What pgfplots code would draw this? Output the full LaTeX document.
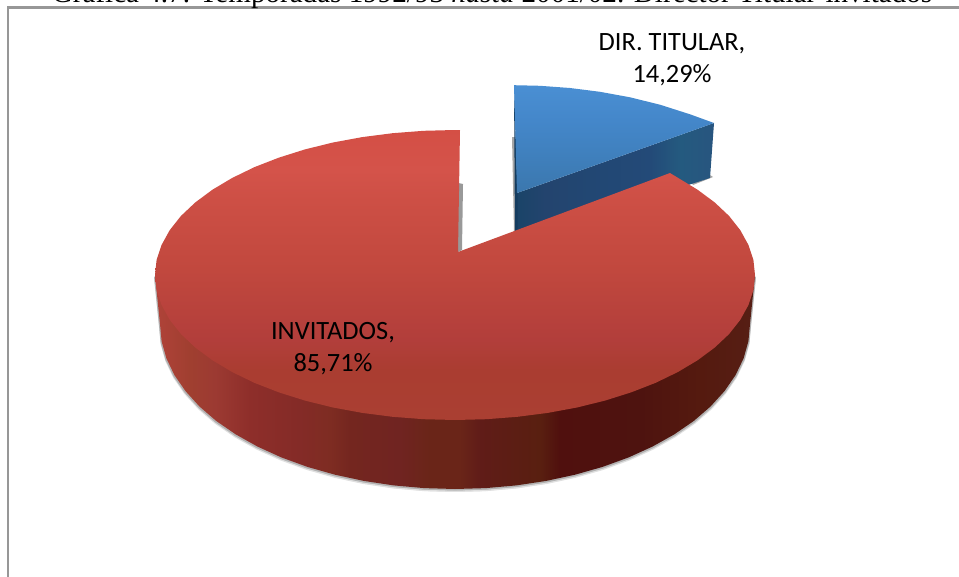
\documentclass[border=0pt]{standalone}
\usepackage{fontspec}
\setmainfont{Carlito}
\newfontfamily\titlefont{Liberation Serif}
\usepackage{pgfplots}
\pgfplotsset{compat=1.18}
\definecolor{frameC}{HTML}{979797}
\definecolor{ra}{HTML}{D44F45}\definecolor{rb}{HTML}{D4534A}\definecolor{rc}{HTML}{CD4F45}
\definecolor{rd}{HTML}{C1483E}\definecolor{re}{HTML}{B23E3B}\definecolor{rf}{HTML}{AA3D31}\definecolor{rg}{HTML}{AA3F32}
\pgfdeclareverticalshading{redtop}{100bp}{color(0bp)=(rg);color(25bp)=(rg);color(33.6bp)=(rf);color(38.8bp)=(re);color(50.9bp)=(rd);color(62.9bp)=(rc);color(68.1bp)=(rb);color(75bp)=(ra);color(100bp)=(ra)}
\definecolor{ba}{HTML}{4A8FD3}\definecolor{bb}{HTML}{4487CA}\definecolor{bc}{HTML}{4081BF}\definecolor{bd}{HTML}{3B77AD}
\pgfdeclareverticalshading{bluetop}{100bp}{color(0bp)=(bd);color(25bp)=(bd);color(44.9bp)=(bc);color(58.8bp)=(bb);color(75bp)=(ba);color(100bp)=(ba)}
\definecolor{sa}{HTML}{AE4238}\definecolor{sb}{HTML}{A03F30}\definecolor{sc}{HTML}{9C3A32}\definecolor{sd}{HTML}{8E2E2A}
\definecolor{se}{HTML}{842B27}\definecolor{sf}{HTML}{7E2C22}\definecolor{sg}{HTML}{74261F}\definecolor{sh}{HTML}{702421}
\definecolor{si}{HTML}{6A2518}\definecolor{sj}{HTML}{601C18}\definecolor{sk}{HTML}{591F10}\definecolor{sl}{HTML}{50100E}
\definecolor{sm}{HTML}{4E130F}\definecolor{sn}{HTML}{551A0F}\definecolor{so}{HTML}{561E14}
\pgfdeclarehorizontalshading{redside}{100bp}{color(0bp)=(sa);color(25.4bp)=(sa);color(27.9bp)=(sb);color(30bp)=(sc);color(32.9bp)=(sd);color(37bp)=(se);color(39.6bp)=(sf);color(41.3bp)=(sg);color(45.4bp)=(sh);color(47.9bp)=(si);color(50.4bp)=(si);color(52.1bp)=(sj);color(57.1bp)=(sk);color(58.7bp)=(sl);color(65.4bp)=(sm);color(70.4bp)=(sn);color(74.6bp)=(so);color(100bp)=(so)}
\definecolor{bsa}{HTML}{1A4468}\definecolor{bsb}{HTML}{23446E}\definecolor{bsc}{HTML}{224773}\definecolor{bsd}{HTML}{234A78}\definecolor{bse}{HTML}{245A7F}\definecolor{bsf}{HTML}{28557F}
\pgfdeclarehorizontalshading{blueside}{100bp}{color(0bp)=(bsa);color(25bp)=(bsa);color(32.1bp)=(bsb);color(43.5bp)=(bsc);color(58.8bp)=(bsd);color(66.4bp)=(bse);color(75bp)=(bsf);color(100bp)=(bsf)}
\pgfplotstableread{
x y
155 275
160 324
161.6 341.2
166.4 358.3
174.4 375
185.5 391.1
199.5 406.5
216.3 421
235.8 434.4
257.6 446.6
281.6 457.5
307.5 466.9
335 474.7
363.8 480.9
393.7 485.4
424.2 488.1
455 489
485.8 488.1
516.3 485.4
546.2 480.9
575 474.7
602.5 466.9
628.4 457.5
652.4 446.6
674.2 434.4
693.7 421
710.5 406.5
724.5 391.1
735.6 375
743.6 358.3
748.4 341.2
750 324
755 275
}\sidetable
\begin{document}
\begin{tikzpicture}
\path[use as bounding box,clip] (0,0) rectangle (959bp,577bp);
\begin{axis}[at={(0,0)},anchor=south west,scale only axis,width=959bp,height=577bp,
  xmin=0,xmax=959,ymin=0,ymax=577,y dir=reverse,hide axis,clip=false,
  every axis plot/.append style={forget plot,mark=none}]
% frame
\addplot[frameC,line width=2.4bp] coordinates {(8,590)(8,7.5)(970,7.5)};
% ground shadows under the pie
\addplot[draw=none,fill=black!12,shift={(-1bp,-3bp)}] table[x=x,y=y] {\sidetable} -- cycle;
\addplot[draw=none,fill=black!12,shift={(1bp,-3bp)}] table[x=x,y=y] {\sidetable} -- cycle;
\addplot[draw=none,fill=black!30,shift={(-1bp,-1.5bp)}] table[x=x,y=y] {\sidetable} -- cycle;
\addplot[draw=none,fill=black!30,shift={(1bp,-1.5bp)}] table[x=x,y=y] {\sidetable} -- cycle;
% shadows of the slices
\addplot[draw=none,fill=black!40] coordinates {(458,183)(463,184)(462,250)(458,252)} -- cycle;
\addplot[draw=none,fill=black!35] coordinates {(512,137)(516,137)(518,230)(514,232)} -- cycle;
\addplot[draw=none,fill=black!35] coordinates {(690,180)(710,175)(713,177)(693,185)} -- cycle;
% blue slice
\addplot[draw=none,shading=blueside] coordinates {(517,193)(714,123)(710,178)(517,240)} -- cycle;
\addplot[draw=none,fill={rgb,255:red,20;green,60;blue,95}] coordinates {(514,85.5)(517.5,193)(517.5,232)(515,232)} -- cycle;
\addplot[draw=none,shading=bluetop] coordinates {(514,85.2)(540,85.8)(570,88)(600,91.8)(630,97.3)(660,104.7)(690,114.3)(714,123)(517,193)} -- cycle;
% red side
\addplot[draw=none,shading=redside] table[x=x,y=y] {\sidetable} -- cycle;
% red top
\addplot[draw=none,shading=redtop] coordinates {
(460,130)(455,130)(423.6,130.8)(392.6,133.2)(362.3,137.1)(333,142.5)(305,149.4)(278.7,157.7)(254.3,167.2)(232.1,178)(212.3,189.8)(195.2,202.5)(180.9,216)(169.7,230.2)(161.6,244.9)(156.6,259.8)(155,275)
(156.6,290.2)(161.6,305.1)(169.7,319.8)(180.9,334)(195.2,347.5)(212.3,360.2)(232.1,372)(254.3,382.8)(278.7,392.3)(305,400.6)(333,407.5)(362.3,412.9)(392.6,416.8)(423.6,419.2)(455,420)
(486.4,419.2)(517.4,416.8)(547.7,412.9)(577,407.5)(605,400.6)(631.3,392.3)(655.7,382.8)(677.9,372)(697.7,360.2)(714.8,347.5)(729.1,334)(740.3,319.8)(748.4,305.1)(753.4,290.2)(755,275)
(753.4,259.8)(748.4,244.9)(740.3,230.2)(729.1,216)(714.8,202.5)(697.7,189.8)(670,173)(458,252)} -- cycle;
% labels
\node[align=center,font=\fontsize{26.5}{32}\selectfont] at (axis cs:672,59.5) {DIR. TITULAR,\\14,29\%};
\node[align=center,font=\fontsize{26.5}{32}\selectfont] at (axis cs:333,348.5) {INVITADOS,\\85,71\%};
\node[anchor=base,font=\titlefont\fontsize{29.2}{32}\selectfont] at (axis cs:492,3) {Gráfica 4.7. Temporadas 1992/93 \textit{hasta} 2001/02. Director Titular-invitados};
\end{axis}
\end{tikzpicture}
\end{document}
